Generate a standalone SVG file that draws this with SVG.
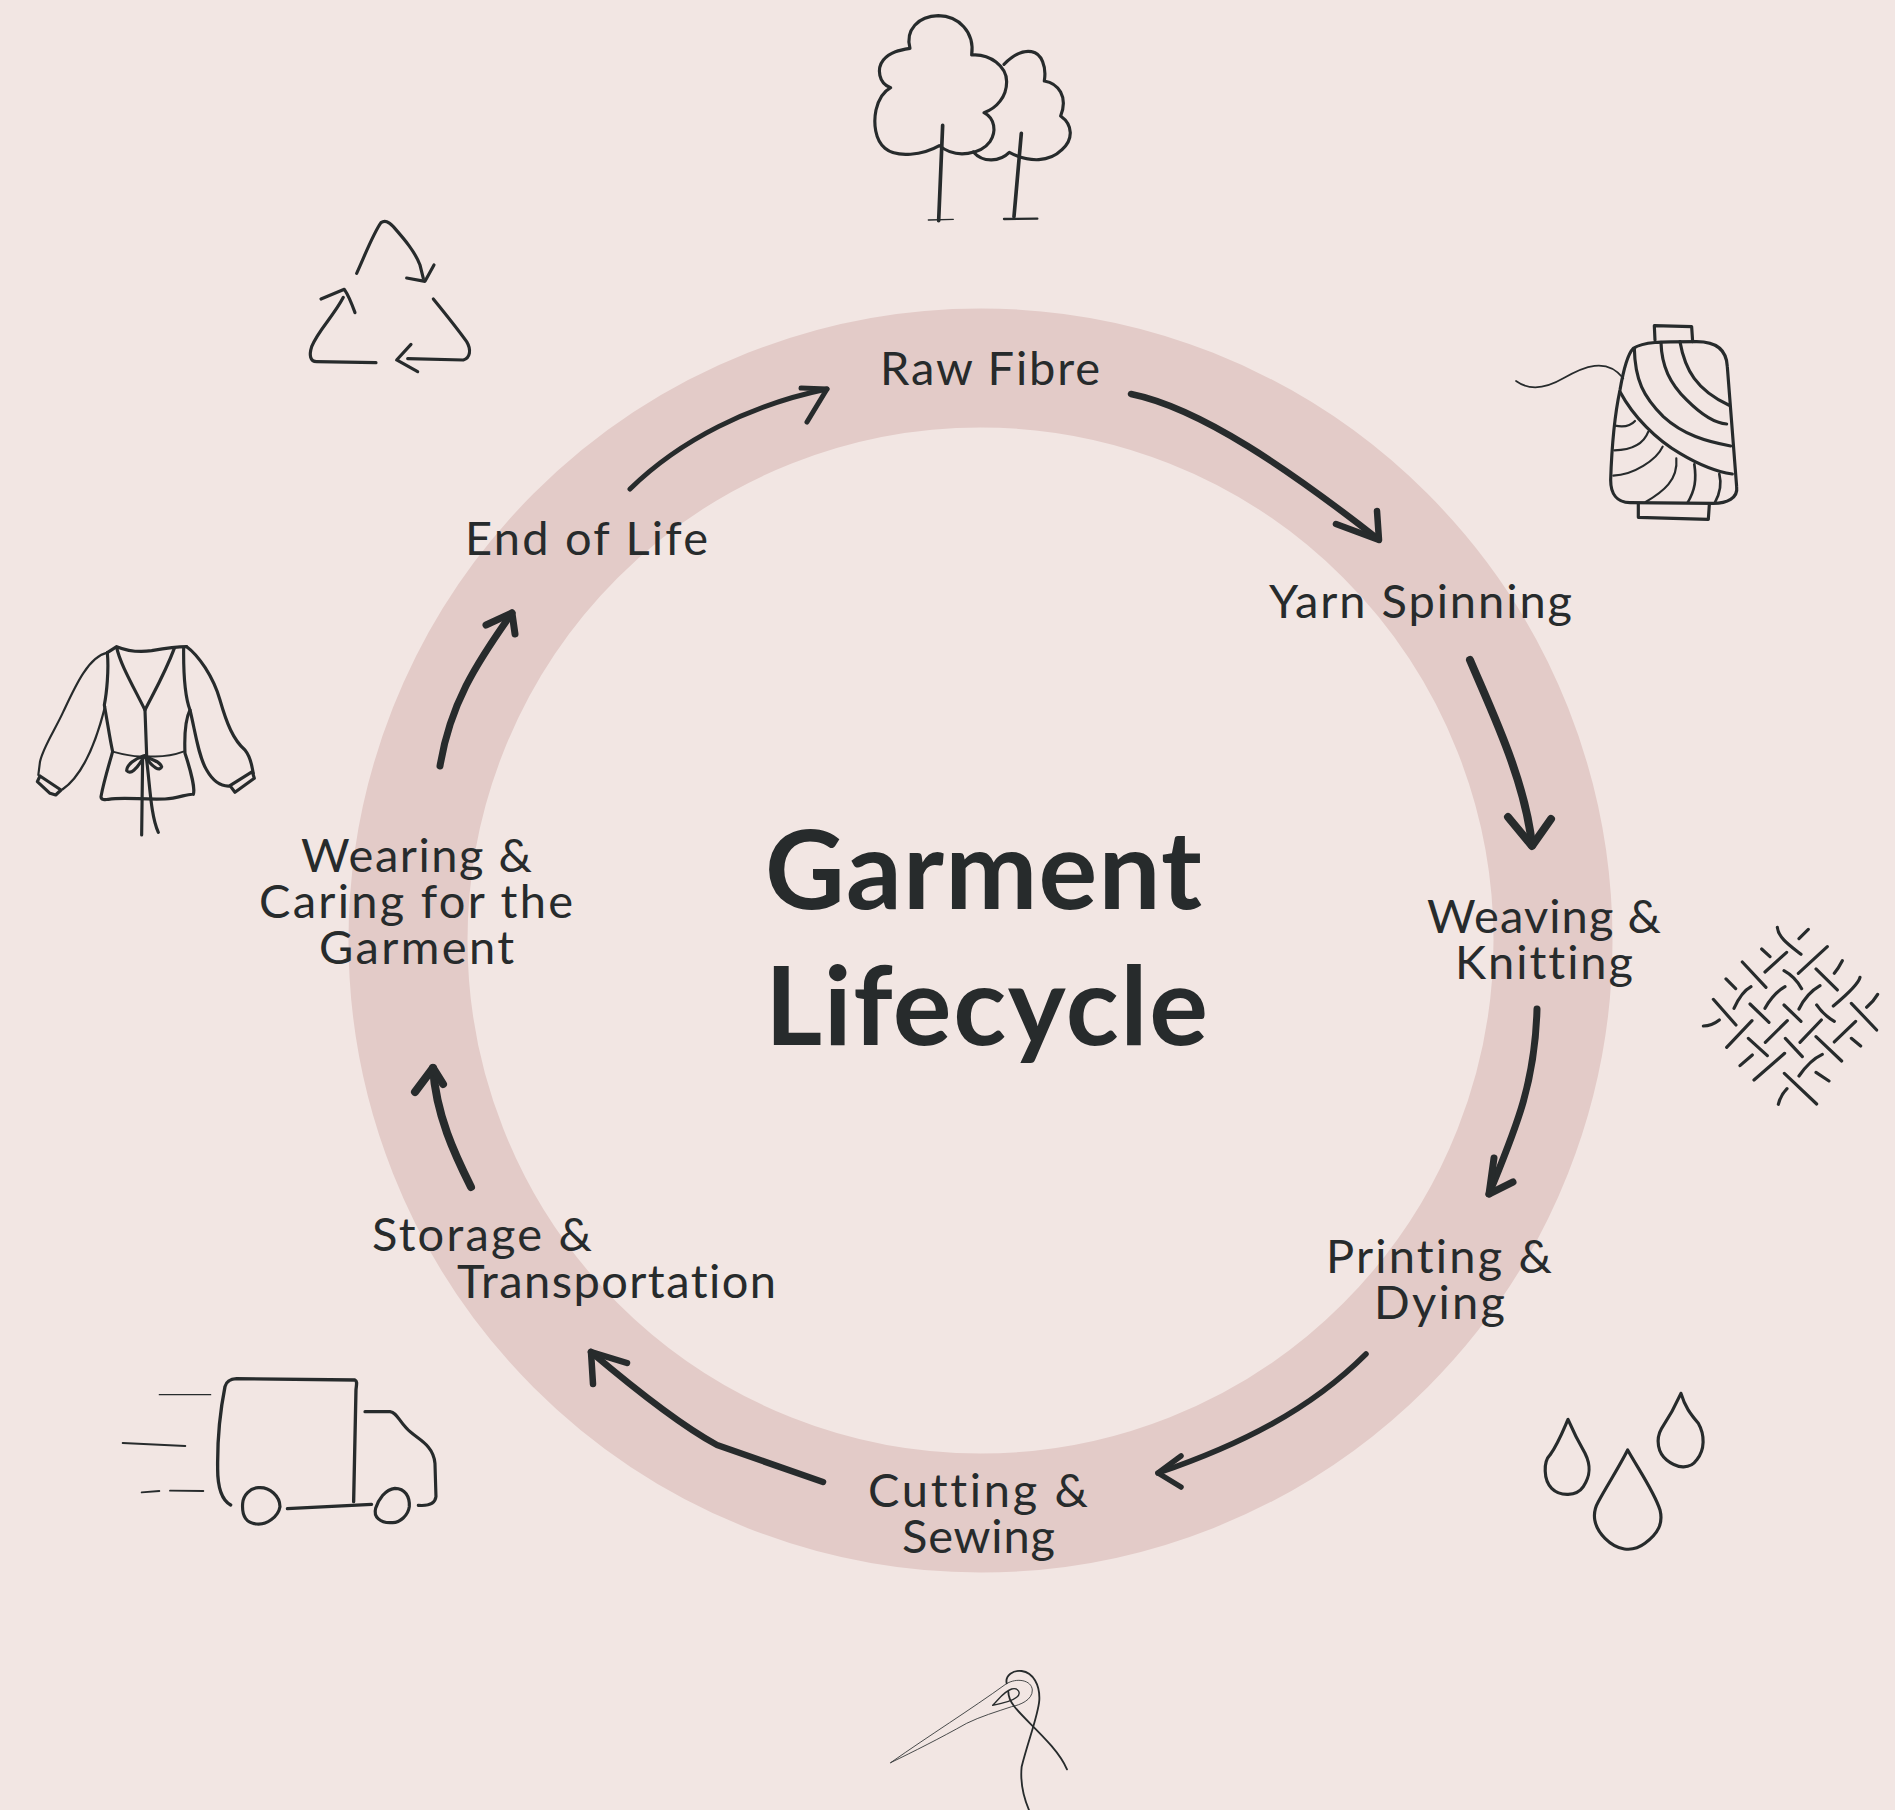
<svg xmlns="http://www.w3.org/2000/svg" width="1895" height="1810" viewBox="0 0 1895 1810">
<style>
text{font-family:"Lato","Liberation Sans",sans-serif;fill:#272b2c;text-anchor:start;font-variant-ligatures:none}
.l{font-size:47px}
.t{font-size:110px;font-weight:700}
.i{fill:none;stroke:#272b2c;stroke-linecap:round;stroke-linejoin:round;stroke-width:9.500}
.a{fill:none;stroke:#272b2c;stroke-linecap:round;stroke-linejoin:round}
</style>
<rect width="1895" height="1810" fill="#f2e6e3"/>
<circle id="ring" cx="980.500" cy="940.500" r="572.500" fill="none" stroke="#e3cbc8" stroke-width="119"/>
<g id="title"><text class="t" x="765" y="908.500" textLength="437">Garment</text><text class="t" x="765" y="1045" textLength="443">Lifecycle</text></g>
<g id="connectors">
<g class="a" stroke-width="6.500"><path d="M1131 394C1200 408 1290 470 1378 539"/><path d="M1336 524L1379 540L1377 511"/></g>
<g class="a" stroke-width="8"><path d="M1470 660C1492 712 1525 780 1532 845"/><path d="M1508 817L1532 846L1551 819"/></g>
<g class="a" stroke-width="7"><path d="M1537 1009C1535 1085 1515 1130 1489 1194"/><path d="M1494 1158L1489 1194L1513 1182"/></g>
<g class="a" stroke-width="5.500"><path d="M1366 1354C1310 1410 1240 1445 1158 1473"/><path d="M1181 1456L1158 1473L1181 1487"/></g>
<g class="a" stroke-width="6.500"><path d="M823 1482L717 1445C680 1425 630 1385 591 1352"/><path d="M593 1384L591 1352L627 1363"/></g>
<g class="a" stroke-width="8"><path d="M471 1187C455 1155 436 1115 433 1068"/><path d="M415 1092L433 1068L443 1084"/></g>
<g class="a" stroke-width="7"><path d="M440 766C450 705 475 665 512 613"/><path d="M486 625L512 613L515 634"/></g>
<g class="a" stroke-width="5"><path d="M630 489C680 440 750 405 827 389"/><path d="M801 388L827 389L807 422"/></g>
</g>
<g id="raw-fibre"><text class="l" x="880" y="385" textLength="220">Raw Fibre</text>
<g transform="translate(850 0) scale(.3333)" class="i"><path d="M180 145C165 90 205 48 265 47C325 48 375 95 365 165C420 160 470 200 470 245C470 290 440 325 402 338C435 355 440 395 420 425C395 460 320 480 268 437C220 465 140 475 105 445C75 420 70 370 78 330C85 300 100 275 122 263C85 250 80 205 100 180C120 155 150 150 180 145Z"/><path d="M462 193C490 165 520 150 545 155C575 160 590 200 583 243C625 250 655 290 632 348C670 375 670 420 635 450C600 485 540 490 478 457C450 485 400 490 370 456"/><path stroke-width="11" d="M278 376L266 662"/><path stroke-width="11" d="M514 400L492 650"/><path stroke-width="4" d="M235 660L310 658"/><path stroke-width="7" d="M462 657L562 656"/></g></g>
<g id="yarn-spinning"><text class="l" x="1269" y="618" textLength="303">Yarn Spinning</text>
<g transform="translate(1500 310) scale(.3333)" class="i"><path d="M400 115C430 95 480 95 590 95C650 95 680 120 682 170L710 530C715 565 680 580 640 580L390 578C350 578 332 550 332 510C335 420 345 310 360 240C372 170 385 130 400 115Z"/><path d="M465 90L463 47L575 50L578 95"/><path d="M415 582L415 622L625 628L628 585"/><path stroke-width="5" d="M48 213C85 240 130 240 190 205C250 170 320 140 370 205"/><path d="M403 115C405 210 430 260 490 320C550 375 620 395 692 408"/><path d="M483 97C485 170 510 220 560 270C600 310 640 340 680 342"/><path d="M540 95C555 180 590 240 686 285"/><path d="M360 245C400 320 470 390 540 430C590 460 650 485 697 492"/><path stroke-width="6.500" d="M345 347C370 352 390 350 405 333"/><path stroke-width="6.500" d="M343 421C390 420 430 405 445 365"/><path stroke-width="6.500" d="M340 497C400 495 470 450 488 410"/><path stroke-width="6.500" d="M437 576C490 545 535 510 529 445"/><path stroke-width="8" d="M563 578C585 540 590 510 583 463"/><path stroke-width="8" d="M645 577C660 550 665 520 658 492"/></g></g>
<g id="weaving-knitting"><text class="l" x="1427" y="933" textLength="234">Weaving &amp;</text><text class="l" x="1455" y="979" textLength="178">Knitting</text>
<g transform="translate(1690 910) scale(.3333)" class="i"><path d="M262 52C265 85 305 110 333 133M355 58L327 86M215 117L240 140M290 127L225 186M412 110L325 190M157 156L228 232M282 182Q315 200 335 236M378 177L442 240M457 152Q445 175 433 190M108 207L137 236M183 230Q155 245 132 295M285 230Q250 250 225 295M390 227Q350 250 327 297M510 202Q505 225 430 288M563 253Q550 275 530 292M70 268L138 345M180 282L237 337M282 285L333 334M380 285Q400 315 433 334M484 280L560 360M40 348Q65 348 88 330M186 332L110 412M292 332L226 397M394 330L330 397M497 334L433 396M175 385L232 437M286 385L337 440M378 380L455 453M484 385L512 408M187 435L150 467M284 430L192 510M397 433Q360 450 327 498M378 487L417 513M283 490L380 582M291 536Q272 555 265 583"/></g></g>
<g id="printing-dying"><text class="l" x="1326" y="1273" textLength="226">Printing &amp;</text><text class="l" x="1374" y="1319" textLength="131">Dying</text>
<g transform="translate(1530 1380) scale(.3333)" class="i"><path d="M114 118C100 150 85 190 60 225C40 245 40 300 65 325C90 350 140 350 160 320C180 290 185 260 165 220C145 185 130 155 114 118Z"/><path d="M293 210C265 265 235 310 205 365C185 400 190 440 225 475C260 510 305 520 345 490C385 460 400 430 390 390C375 340 330 275 293 210Z"/><path d="M453 40C435 80 415 115 395 145C375 180 385 220 410 240C440 265 480 270 500 240C525 210 525 165 505 130C480 100 465 80 453 40Z"/></g></g>
<g id="cutting-sewing"><text class="l" x="868" y="1507" textLength="220">Cutting &amp;</text><text class="l" x="902" y="1553" textLength="153">Sewing</text>
<g transform="translate(880 1660) scale(.3333)" class="i"><path stroke-width="2.500" d="M32 308C150 225 270 150 378 72C410 52 455 60 457 90C458 120 420 135 395 140C350 155 300 170 260 190C180 235 100 275 32 308Z"/><path stroke-width="4" d="M338 136C355 120 370 95 395 87C415 82 425 100 410 112C395 125 370 130 338 136Z"/><path stroke-width="5.500" d="M380 70C375 45 400 30 425 33C460 38 480 75 478 120C475 165 445 240 425 320C420 370 430 410 447 450"/><path stroke-width="5.500" d="M385 95C385 125 410 150 450 190C495 235 540 280 561 328"/></g></g>
<g id="storage-transportation"><text class="l" x="372" y="1251" textLength="220">Storage &amp;</text><text class="l" x="457" y="1298" textLength="319">Transportation</text>
<g transform="translate(110 1360) scale(.3333)" class="i"><path stroke-width="10" d="M362 435C335 420 322 385 323 320C322 220 335 130 345 80C350 60 365 57 380 56L735 60C742 65 740 70 738 90L731 425"/><path d="M765 155L840 155C860 157 865 180 890 205C915 235 970 250 975 310L978 410C975 435 950 438 925 436"/><path d="M532 446L785 433"/><path d="M445 383C480 380 510 410 510 440C505 470 470 495 440 492C410 490 395 470 398 430C400 405 420 385 445 383Z"/><path d="M855 385C885 385 900 410 898 440C895 465 870 490 845 488C810 490 790 470 797 445C805 420 825 388 855 385Z"/><path stroke-width="4" d="M148 104L302 104"/><path stroke-width="5.500" d="M38 249L226 258M95 397L148 393M180 392L280 393"/></g></g>
<g id="wearing-caring"><text class="l" x="301" y="872" textLength="231">Wearing &amp;</text><text class="l" x="259" y="918" textLength="314">Caring for the</text><text class="l" x="319" y="964" textLength="195">Garment</text>
<g transform="translate(25 630) scale(.3333)" class="i"><path d="M247 68L275 50C300 60 340 68 380 62C420 55 450 50 485 50"/><path stroke-width="6.500" d="M247 68C190 80 150 170 115 245C90 300 55 350 45 395L40 435"/><path stroke-width="7" d="M113 478C160 445 205 370 240 230"/><path d="M37 455L45 438L108 480L92 495L75 490Z"/><path d="M247 68C252 120 245 190 238 225C248 280 255 330 263 365C250 410 235 460 228 500C228 510 240 510 250 508C300 500 350 510 420 507C460 505 490 490 505 493C510 480 500 430 480 370C478 320 480 270 495 240C480 200 475 150 476 55"/><path d="M275 52C285 100 320 160 360 240C385 190 420 130 448 55"/><path d="M360 240L365 375"/><path d="M485 50C520 75 565 140 585 210C605 280 625 330 660 360C680 385 680 410 685 430"/><path d="M495 240C510 300 520 380 545 420C565 455 590 470 615 468"/><path d="M615 467L682 425L688 445L630 487Z"/><path stroke-width="6" d="M263 365C300 375 340 382 360 378C400 382 440 378 475 365"/><path d="M358 378C330 385 305 405 305 422C315 435 335 420 358 378"/><path d="M358 378C385 390 405 395 410 410C405 425 385 415 358 378"/><path d="M353 378L350 615"/><path d="M365 390C375 470 378 560 400 607"/></g></g>
<g id="end-of-life"><text class="l" x="465" y="555" textLength="243">End of Life</text>
<g transform="translate(295 210) scale(.3333)" class="i"><path d="M185 190C210 135 235 70 258 38C270 30 280 35 295 50C330 90 360 125 375 165L385 205"/><path d="M335 204L390 214L417 165"/><path d="M415 267C450 310 490 360 515 395C530 420 525 445 505 450L338 446"/><path d="M348 403L305 450L368 485"/><path d="M243 458L65 455C45 455 42 435 50 410C70 360 115 320 145 262"/><path d="M78 267L148 238C160 255 170 280 180 308"/></g></g>
</svg>
